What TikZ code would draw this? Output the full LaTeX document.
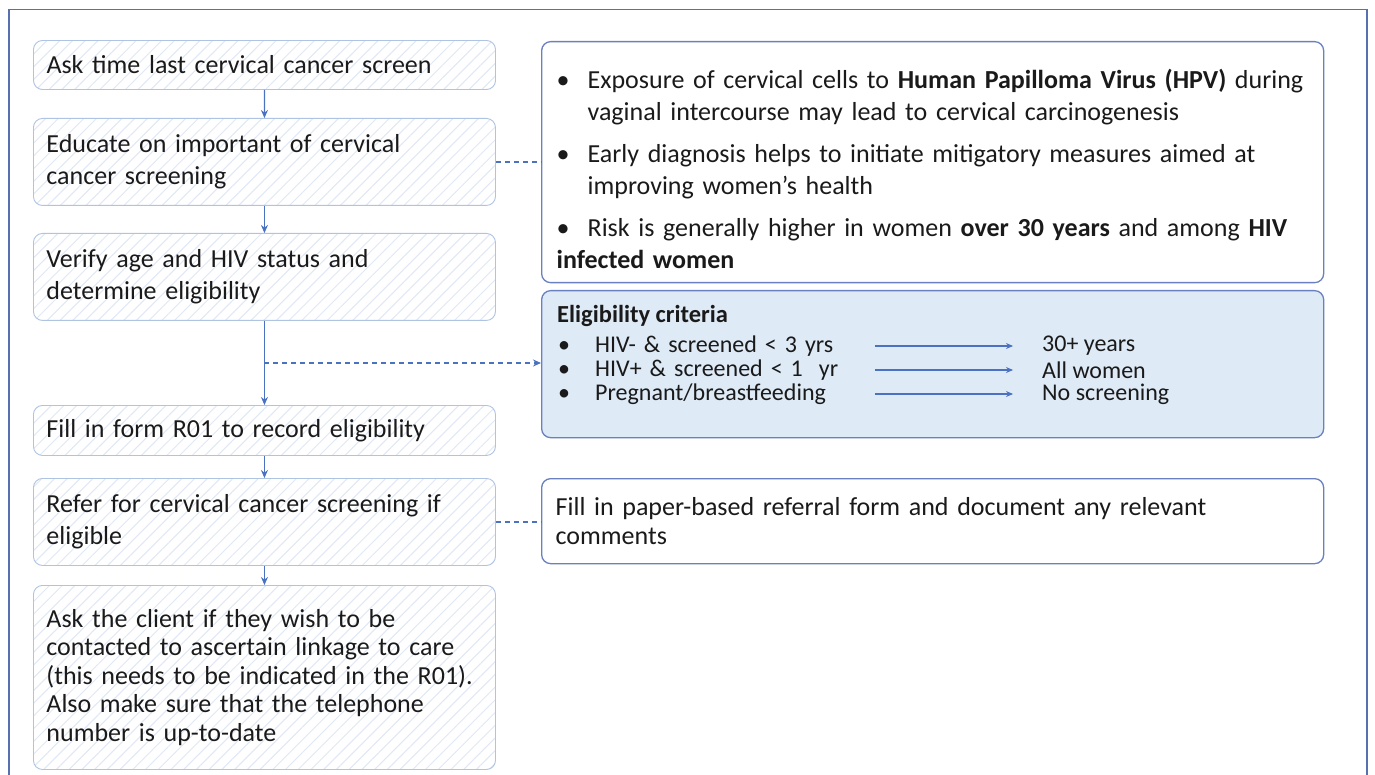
\documentclass[tikz,border=0pt]{standalone}
\usepackage{fontspec}
\setmainfont{Carlito}
\usetikzlibrary{arrows.meta,patterns.meta}
\definecolor{frameblue}{HTML}{5A6FAE}
\definecolor{lborder}{HTML}{AFC3E3}
\definecolor{hatch}{HTML}{DFE8F4}
\definecolor{arrowblue}{HTML}{4A72C0}
\definecolor{rborder}{HTML}{6A80BF}
\definecolor{eligfill}{HTML}{DEEAF6}
\definecolor{txt}{HTML}{1A1A1A}
\newcommand{\bitem}[1]{\par\noindent\hangindent=31pt\hangafter=1\makebox[31pt][l]{\textbullet}#1}
\newcommand{\nl}{\hfill\break}
\tikzset{
  lbox/.style={draw=lborder, line width=0.9pt, rounded corners=9pt,
    preaction={fill=white},
    pattern={Lines[angle=45,distance=9pt,line width=1pt]}, pattern color=hatch,
    minimum width=462pt, text width=436pt, inner xsep=13pt, align=left,
    anchor=north west, text=txt},
  rbox/.style={draw=rborder, line width=1.3pt, rounded corners=9pt, fill=white,
    minimum width=782pt, anchor=north west, text=txt},
  flow/.style={draw=arrowblue, line width=1.2pt, -{Stealth[length=8pt,width=7pt]}},
  dashlink/.style={draw=arrowblue, line width=1.3pt, dash pattern=on 5pt off 4pt},
  critarrow/.style={draw=arrowblue, line width=1.1pt, -{Stealth[length=7pt,width=6pt]}},
  crit/.style={anchor=west, inner sep=0pt, text=txt, font=\fontsize{24}{24}\selectfont},
}
\begin{document}
\begin{tikzpicture}[x=1pt,y=-1pt]
\useasboundingbox (0,0) rectangle (1375,775);
\fill[white] (0,0) rectangle (1375,775);
\draw[frameblue, line width=1.8pt] (9,800) -- (9,9.5) -- (1367,9.5) -- (1367,800);

% left column
\begin{scope}[every node/.append style={font=\fontsize{26}{32}\selectfont}]
\node[lbox, minimum height=49pt] (b1) at (33,40) {Ask time last cervical cancer screen};
\node[lbox, minimum height=87pt] (b2) at (33,118) {Educate on important of cervical\\cancer screening};
\node[lbox, minimum height=87pt] (b3) at (33,233) {Verify age and HIV status and\\determine eligibility};
\node[lbox, minimum height=50pt] (b4) at (33,405) {Fill in form R01 to record eligibility};
\node[lbox, minimum height=87pt] (b5) at (33,478) {Refer for cervical cancer screening if\\eligible};
\node[lbox, minimum height=184pt, font=\fontsize{26}{28.5}\selectfont] (b6) at (33,585) {Ask the client if they wish to be\\contacted to ascertain linkage to care\\(this needs to be indicated in the R01).\\Also make sure that the telephone\\number is up-to-date};
\end{scope}

% right column
\node[rbox, minimum height=241pt, text width=752pt, inner xsep=15pt, align=left,
  font=\fontsize{26}{32}\selectfont] (r1) at (541,41) {%
  \bitem{Exposure of cervical cells to \textbf{Human Papilloma Virus (HPV)} during\nl vaginal intercourse may lead to cervical carcinogenesis}\par\vspace{10pt}%
  \bitem{Early diagnosis helps to initiate mitigatory measures aimed at\nl improving women’s health}\par\vspace{10pt}%
  \bitem{Risk is generally higher in women \textbf{over 30 years} and among \textbf{HIV}\nl \textbf{infected women}}};

\node[rbox, fill=eligfill, minimum height=147pt] (r2) at (541,290) {};
\node[crit, font=\bfseries\fontsize{24.5}{24}\selectfont] (etitle) at (557,316) {Eligibility criteria};
\node[crit, text width=309pt] (e1l) at (558,346) {\makebox[37pt][l]{\textbullet}HIV- \& screened < 3 yrs};
\node[crit, text width=309pt] (e2l) at (558,370) {\makebox[37pt][l]{\textbullet}HIV+ \& screened < 1\ \ yr};
\node[crit, text width=309pt] (e3l) at (558,394) {\makebox[37pt][l]{\textbullet}Pregnant/breastfeeding};
\node[crit] (e1r) at (1042,346) {30+ years};
\node[crit] (e2r) at (1042,370) {All women};
\node[crit] (e3r) at (1042,394) {No screening};
\foreach \i in {1,2,3}
  \draw[critarrow, shorten <=8pt, shorten >=29pt] (e\i l.east) -- (e\i r.west);

\node[rbox, minimum height=85pt, text width=754pt, inner xsep=14pt, align=left,
  font=\fontsize{26}{29}\selectfont] (r3) at (541,478) {Fill in paper-based referral form and document any relevant\\comments};

% flow arrows
\draw[flow] (b1.south) -- (b2.north);
\draw[flow] (b2.south) -- (b3.north);
\draw[flow] (b3.south) -- (b4.north);
\draw[flow] (b4.south) -- (b5.north);
\draw[flow] (b5.south) -- (b6.north);

\coordinate (m) at (b3.south |- 0,363);
\draw[dashlink, -{Stealth[length=8pt,width=7pt]}] (m) -- (m -| r2.west);
\draw[dashlink] (b2.east) -- (b2.east -| r1.west);
\draw[dashlink] (b5.east) -- (b5.east -| r3.west);
\end{tikzpicture}
\end{document}
